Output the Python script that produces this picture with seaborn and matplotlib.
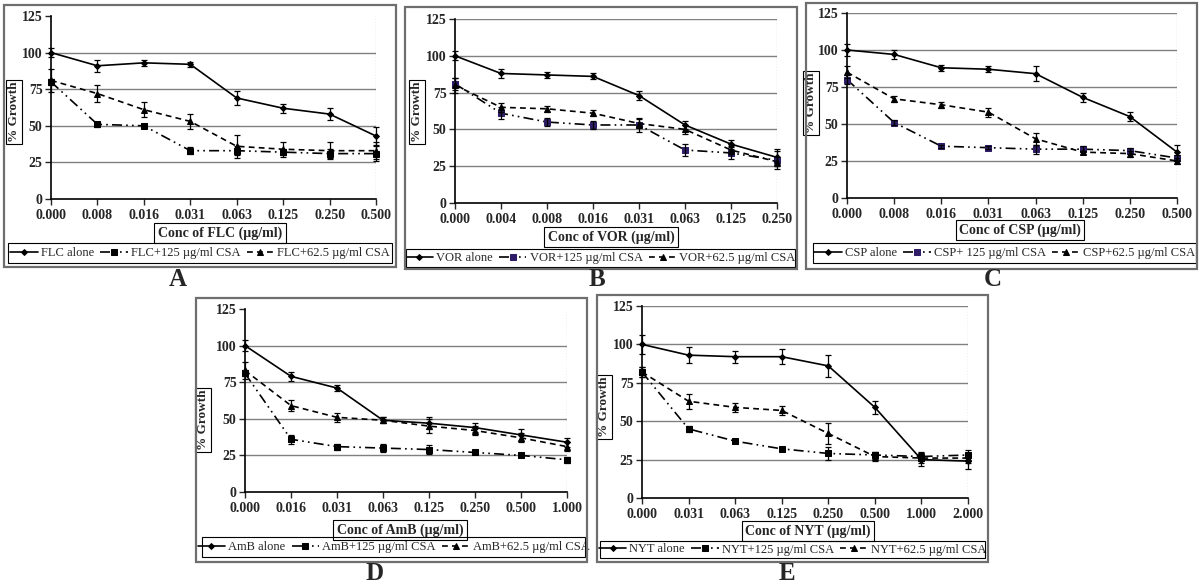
import pandas as pd
import matplotlib
matplotlib.use('Agg')
import matplotlib.pyplot as plt
import seaborn as sns
from matplotlib.patches import Rectangle

# values (% growth, with error bar half-lengths)
flc_conc = ['0.000', '0.008', '0.016', '0.031', '0.063', '0.125', '0.250', '0.500']
flc_alone = [100, 91, 93, 92, 69, 62, 58, 43]
flc_alone_err = [3, 4, 2, 1.5, 5, 3, 4, 6]
flc_125 = [80, 51, 50, 33, 33, 32, 31, 31]
flc_125_err = [2, 1.5, 1, 2.5, 3, 2, 3, 5]
flc_62 = [81, 72, 61, 53, 36, 34, 33, 33]
flc_62_err = [8, 6, 5, 5, 8, 5, 6, 6]

vor_conc = ['0.000', '0.004', '0.008', '0.016', '0.031', '0.063', '0.125', '0.250']
vor_alone = [100, 88, 87, 86, 73, 53, 40, 31]
vor_alone_err = [3, 3, 2, 2, 3, 3, 3, 6]
vor_125 = [81, 61, 55, 53, 53, 36, 34, 29]
vor_125_err = [4, 4, 3, 3, 5, 4, 4, 6]
vor_62 = [80, 65, 64, 61, 54, 50, 36, 28]
vor_62_err = [5, 3, 2, 2, 3, 3, 3, 3]

csp_conc = ['0.000', '0.008', '0.016', '0.031', '0.063', '0.125', '0.250', '0.500']
csp_alone = [100, 97, 88, 87, 84, 68, 55, 31]
csp_alone_err = [4, 3, 2, 2, 5, 3, 3, 5]
csp_125 = [80, 51, 35, 34, 33, 33, 32, 27]
csp_125_err = [3, 2, 1, 1, 3, 2, 2, 2]
csp_62 = [85, 67, 63, 58, 40, 31, 30, 25]
csp_62_err = [4, 2, 2, 3, 4, 1, 2, 2]

amb_conc = ['0.000', '0.016', '0.031', '0.063', '0.125', '0.250', '0.500', '1.000']
amb_alone = [100, 79, 71, 49, 47, 44, 39, 34]
amb_alone_err = [4, 3, 2, 2, 4, 3, 4, 3]
amb_125 = [81, 36, 31, 30, 29, 27, 25, 22]
amb_125_err = [2, 3, 2, 3, 3, 1, 1, 2]
amb_62 = [83, 59, 51, 49, 45, 42, 37, 31]
amb_62_err = [6, 4, 3, 2, 5, 3, 3, 3]

nyt_conc = ['0.000', '0.031', '0.063', '0.125', '0.250', '0.500', '1.000', '2.000']
nyt_alone = [100, 93, 92, 92, 86, 59, 25, 24]
nyt_alone_err = [6, 5, 4, 5, 7, 4, 4, 5]
nyt_125 = [82, 45, 37, 32, 29, 28, 27, 28]
nyt_125_err = [3, 2, 1, 1, 4, 2, 3, 3]
nyt_62 = [82, 63, 59, 57, 42, 27, 26, 26]
nyt_62_err = [3, 5, 3, 3, 7, 3, 3, 3]

drugs = ['FLC', 'VOR', 'CSP', 'AmB', 'NYT']
letters = ['A', 'B', 'C', 'D', 'E']
legend_labels = [
    ['FLC alone', 'FLC+125 µg/ml CSA', 'FLC+62.5 µg/ml CSA'],
    ['VOR alone', 'VOR+125 µg/ml CSA', 'VOR+62.5 µg/ml CSA'],
    ['CSP alone', 'CSP+ 125 µg/ml CSA', 'CSP+62.5 µg/ml CSA'],
    ['AmB alone', 'AmB+125 µg/ml CSA', 'AmB+62.5 µg/ml CSA'],
    ['NYT alone', 'NYT+125 µg/ml CSA', 'NYT+62.5 µg/ml CSA'],
]
concs = [flc_conc, vor_conc, csp_conc, amb_conc, nyt_conc]
means = [
    [flc_alone, flc_125, flc_62],
    [vor_alone, vor_125, vor_62],
    [csp_alone, csp_125, csp_62],
    [amb_alone, amb_125, amb_62],
    [nyt_alone, nyt_125, nyt_62],
]
errs = [
    [flc_alone_err, flc_125_err, flc_62_err],
    [vor_alone_err, vor_125_err, vor_62_err],
    [csp_alone_err, csp_125_err, csp_62_err],
    [amb_alone_err, amb_125_err, amb_62_err],
    [nyt_alone_err, nyt_125_err, nyt_62_err],
]

# layout in pixels (left, top, right, bottom) on a 1200x588 canvas
W, H = 1200, 588
axes_px = [(51, 16, 376, 199), (455, 19, 777, 203), (847, 13, 1177, 198),
           (245, 309, 567, 492), (642, 306, 968, 498)]
box_px = [(4, 5, 396, 267), (405, 7, 797, 269), (806, 3, 1197, 269),
          (196, 298, 587, 562), (597, 295, 988, 562)]
legend_px = [(8, 243, 392, 263), (406, 249, 795, 267), (813, 243, 1196, 263),
             (202, 537, 585, 557), (600, 541, 985, 558)]
xlabel_px = [(220, 233), (611, 237), (1020, 230), (400, 530), (808, 531)]
ylabel_px = [(14, 112), (417, 112), (811, 103), (203, 420), (604, 407)]
letter_px = [(178, 279), (597, 279), (993, 279), (375, 574), (787, 574)]
top_grid = [False, True, True, False, True]
square_color = ['black', '#2e1d66', '#2e1d66', 'black', 'black']

sns.set_style('ticks')
plt.rcParams['font.family'] = ['Liberation Serif', 'DejaVu Serif']
plt.rcParams['font.size'] = 10

fig = plt.figure(figsize=(W / 100, H / 100), dpi=100)


def fx(x):
    return x / W


def fy(y):
    return 1 - y / H


for k in range(5):
    l, t, r, b = axes_px[k]
    ax = fig.add_axes([fx(l), fy(b), fx(r - l), (b - t) / H])
    labels = legend_labels[k]
    rows = []
    for lab, vals in zip(labels, means[k]):
        for i, v in enumerate(vals):
            rows.append({'pos': i, 'growth': v, 'series': lab})
    df = pd.DataFrame(rows)

    sns.lineplot(data=df, x='pos', y='growth', style='series', style_order=labels,
                 markers=dict(zip(labels, ['D', 's', '^'])),
                 dashes=dict(zip(labels, ['', (6, 2.5, 1, 2.5, 1, 2.5), (3.5, 2.5)])),
                 color='black', linewidth=1.2, legend=False, ax=ax, zorder=3)
    series_lines = list(ax.lines)
    for line, ms in zip(series_lines, [3, 5, 4.5]):
        line.set_markersize(ms)
        line.set_markeredgecolor('black')
        line.set_markerfacecolor('black')
        line.set_clip_on(False)
    series_lines[1].set_markerfacecolor(square_color[k])
    series_lines[1].set_markeredgecolor(square_color[k])

    for vals, e in zip(means[k], errs[k]):
        eb = ax.errorbar(range(len(vals)), vals, yerr=e, fmt='none', ecolor='black',
                         elinewidth=0.9, capsize=2.5, capthick=0.9, zorder=4)
        for child in eb.get_children():
            child.set_clip_on(False)

    grid_levels = [25, 50, 75, 100] + ([125] if top_grid[k] else [])
    for g in grid_levels:
        ax.axhline(g, color='#808080', linewidth=1, zorder=1)
    ax.axvline(7, color='black', linestyle=':', linewidth=0.8, zorder=1)

    ax.set_xlim(0, 7)
    ax.set_ylim(0, 125)
    ax.set_xticks(range(8))
    ax.set_xticklabels(concs[k], fontweight='bold')
    ax.set_yticks([0, 25, 50, 75, 100, 125])
    ax.set_yticklabels(['0', '25', '50', '75', '100', '125'], fontweight='bold')
    ax.tick_params(axis='both', direction='out', length=4, width=1, pad=3, labelsize=10)
    ax.tick_params(axis='y', pad=2)
    for s in ['top', 'right']:
        ax.spines[s].set_visible(False)
    for s in ['left', 'bottom']:
        ax.spines[s].set_linewidth(1.2)
        ax.spines[s].set_color('black')

    ax.set_xlabel(f'Conc of {drugs[k]} (µg/ml)', fontweight='bold', fontsize=10, va='center',
                  bbox=dict(boxstyle='square,pad=0.25', facecolor='white',
                            edgecolor='black', linewidth=0.8))
    ax.set_ylabel('% Growth', fontweight='bold', fontsize=9.5, va='center', ha='center',
                  bbox=dict(boxstyle='square,pad=0.15', facecolor='white',
                            edgecolor='black', linewidth=0.8))
    xl, yl = xlabel_px[k]
    ax.xaxis.set_label_coords((xl - l) / (r - l), (b - yl) / (b - t))
    xl, yl = ylabel_px[k]
    ax.yaxis.set_label_coords((xl - l) / (r - l), (b - yl) / (b - t))

    # legend frame drawn separately so the entries keep natural spacing
    ll, lt, lr, lb = legend_px[k]
    leg = ax.legend(series_lines, labels, loc='center',
                    bbox_to_anchor=(fx((ll + lr) / 2), fy((lt + lb) / 2)),
                    bbox_transform=fig.transFigure, ncol=3, frameon=False,
                    borderaxespad=0, borderpad=0, handlelength=2.2, handletextpad=0.25,
                    columnspacing=0.5, fontsize=9)
    fig.add_artist(Rectangle((fx(ll), fy(lb)), fx(lr - ll), (lb - lt) / H,
                             transform=fig.transFigure, fill=False,
                             edgecolor='black', linewidth=0.8))

    bl, bt, br, bb = box_px[k]
    fig.add_artist(Rectangle((fx(bl), fy(bb)), fx(br - bl), (bb - bt) / H,
                             transform=fig.transFigure, fill=False,
                             edgecolor='#6e6e6e', linewidth=1.6))
    tx, ty = letter_px[k]
    fig.text(fx(tx), fy(ty), letters[k], fontsize=18, fontweight='bold',
             ha='center', va='center')

fig.savefig('out.png', dpi=100, facecolor='white')
